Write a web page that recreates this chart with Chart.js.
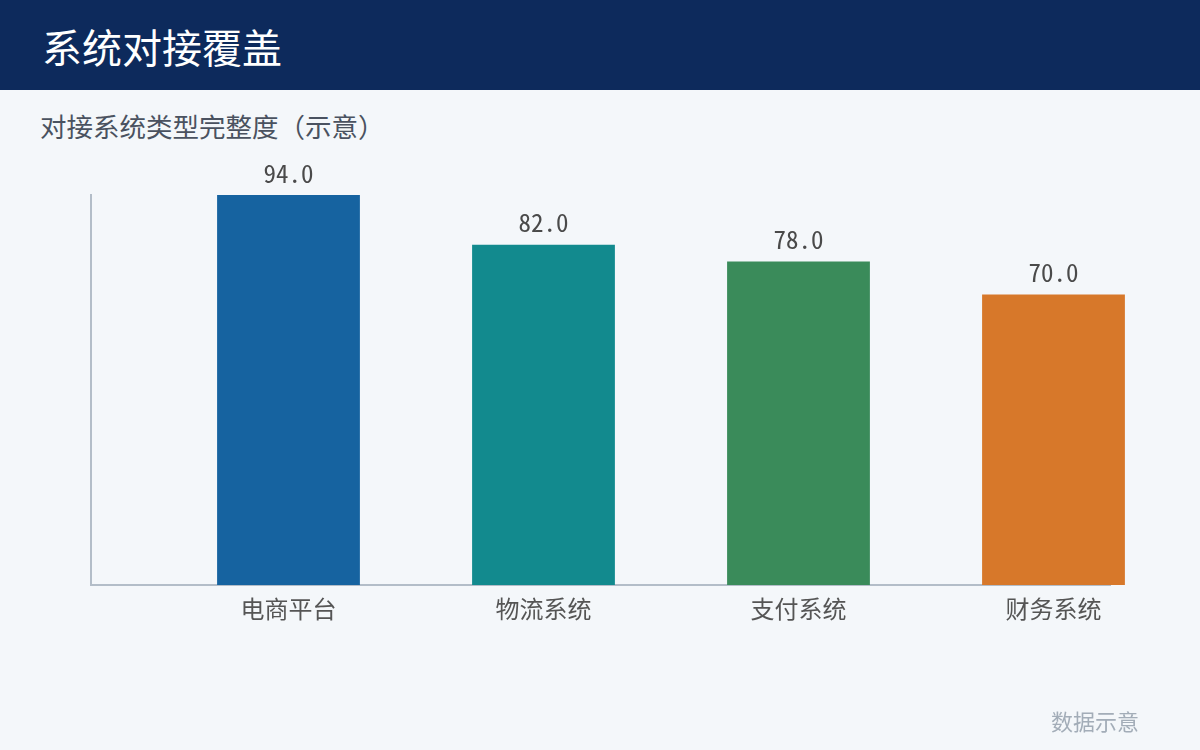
<!DOCTYPE html>
<html>
<head>
<meta charset="utf-8">
<script src="https://cdn.jsdelivr.net/npm/chart.js@4"></script>
<style>
  body { margin: 0; width: 1200px; height: 750px; background: #f4f7fa; position: relative; overflow: hidden;
         font-family: "Noto Sans CJK SC", "Noto Sans", sans-serif; }
  #header { position: absolute; left: 0; top: 0; width: 1200px; height: 90px; background: #0d2a5c; }
  #title { position: absolute; left: 42px; top: 19px; color: #fff; font-size: 40px; line-height: 54px; }
  #subtitle { position: absolute; left: 40px; top: 108px; color: #4a5260; font-size: 26.5px; line-height: 36px; }
  #note { position: absolute; left: 1051px; top: 705px; color: #a3adb8; font-size: 22px; line-height: 30px; }
  #wrap { position: absolute; left: 0; top: 0; width: 1200px; height: 750px; }
</style>
</head>
<body>
<div id="header"><div id="title">系统对接覆盖</div></div>
<div id="subtitle">对接系统类型完整度（示意）</div>
<div id="wrap"><canvas id="chart"></canvas></div>
<div id="note">数据示意</div>
<script>
const categories = ['电商平台', '物流系统', '支付系统', '财务系统'];
const values = [94.0, 82.0, 78.0, 70.0];
const barColors = ['#1663a0', '#128a8e', '#3a8b5a', '#d7782a'];

const fontFamily = '"Noto Sans CJK SC", "Noto Sans", sans-serif';
const monoFamily = '"Noto Sans Mono CJK SC", "DejaVu Sans Mono", monospace';

/* numeros encima de cada barra */
const valueLabels = {
    id: 'valueLabels',
    afterDatasetsDraw(chart) {
        const ctx = chart.ctx;
        const meta = chart.getDatasetMeta(0);
        ctx.save();
        ctx.font = '25px ' + monoFamily;
        ctx.fillStyle = '#4a4a4a';
        ctx.textAlign = 'center';
        ctx.textBaseline = 'middle';
        meta.data.forEach((bar, i) => {
            ctx.fillText(values[i].toFixed(1), bar.x, bar.y - 22);
        });
        ctx.restore();
    }
};

const config = {
    type: 'bar',
    data: {
        datasets: [{
            data: values.map((v, i) => ({ x: i, y: v })),
            backgroundColor: barColors,
            borderWidth: 0,
            barPercentage: 0.56,
            categoryPercentage: 1,
            clip: false
        }]
    },
    options: {
        responsive: false,
        animation: false,
        layout: { padding: { left: 91, right: 90, top: 195, bottom: 105 } },
        plugins: { legend: { display: false }, tooltip: { enabled: false } },
        scales: {
            x: {
                type: 'linear',
                offset: false,
                grace: 0,
                min: -0.7745,
                max: 3.2216,
                afterBuildTicks: scale => { scale.ticks = categories.map((c, i) => ({ value: i })); },
                afterFit: scale => { scale.height = 60; },
                grid: { display: false, drawTicks: false },
                border: { display: true, color: '#b3bdc8', width: 2 },
                ticks: {
                    callback: value => categories[value],
                    color: '#555555',
                    font: { size: 24, family: fontFamily },
                    padding: 9,
                    maxRotation: 0,
                    autoSkip: false
                }
            },
            y: {
                min: 0,
                max: 94,
                afterFit: scale => { scale.width = 0; },
                grid: { display: false, drawTicks: false },
                border: { display: true, color: '#b3bdc8', width: 2 },
                ticks: { display: false }
            }
        }
    },
    plugins: [valueLabels]
};

const canvas = document.getElementById('chart');
canvas.width = 1200;
canvas.height = 750;
new Chart(canvas, config);
</script>
</body>
</html>
